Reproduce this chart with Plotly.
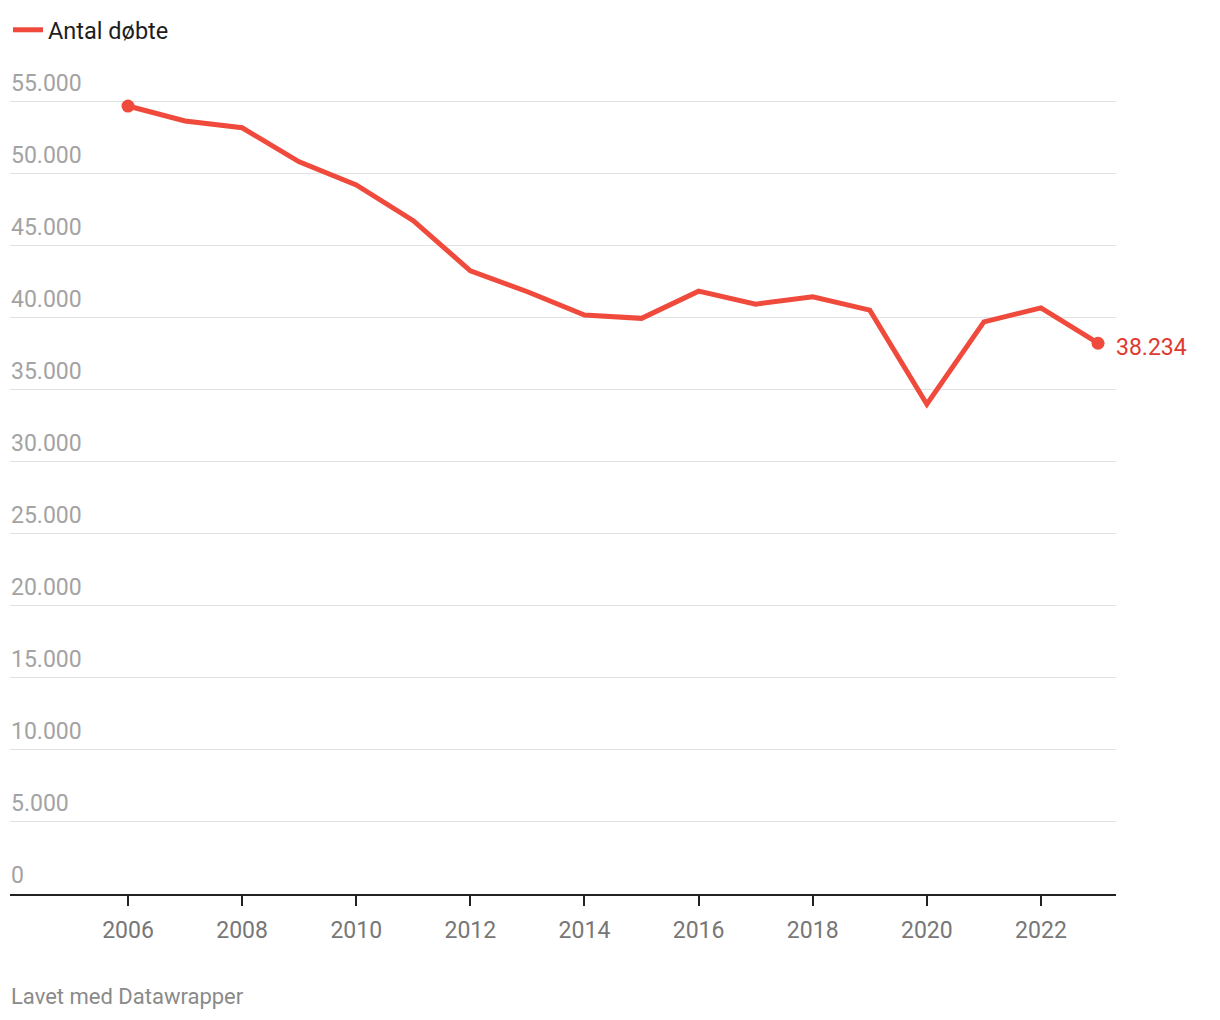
import plotly.graph_objects as go

years = list(range(2006, 2024))
baptized = [54700, 53660, 53190, 50830, 49220, 46740, 43260, 41810, 40190,
            39960, 41850, 40950, 41460, 40530, 34000, 39720, 40690, 38234]
y_ticks = [0, 5000, 10000, 15000, 20000, 25000, 30000, 35000, 40000, 45000, 50000, 55000]
y_tick_labels = ["0", "5.000", "10.000", "15.000", "20.000", "25.000", "30.000",
                 "35.000", "40.000", "45.000", "50.000", "55.000"]
x_ticks = [2006, 2008, 2010, 2012, 2014, 2016, 2018, 2020, 2022]
series_name = "Antal døbte"
end_label = "38.234"
footer = "Lavet med Datawrapper"

RED = "#ef4a3c"
FONT = "Roboto"

fig = go.Figure()
fig.add_trace(go.Scatter(
    x=years, y=baptized, mode="lines", name=series_name,
    line=dict(color=RED, width=5), showlegend=True, hoverinfo="skip",
))
fig.add_trace(go.Scatter(
    x=[years[0], years[-1]], y=[baptized[0], baptized[-1]], mode="markers",
    marker=dict(color=RED, size=13), showlegend=False, hoverinfo="skip",
))

annotations = []
for v, t in zip(y_ticks, y_tick_labels):
    annotations.append(dict(
        x=0, xref="paper", y=v, yref="y", text=t, showarrow=False,
        xanchor="left", yanchor="bottom", yshift=3, xshift=-1,
        font=dict(family=FONT, size=23, color="#a3a3a3"),
    ))
annotations.append(dict(
    x=years[-1], y=baptized[-1], xref="x", yref="y", text=end_label, showarrow=False,
    xanchor="left", yanchor="middle", xshift=16, yshift=-4,
    font=dict(family=FONT, size=23, color="#e0392f"),
))
annotations.append(dict(
    x=0, xref="paper", y=-0.1227, yref="paper", text=footer, showarrow=False,
    xanchor="left", yanchor="middle", xshift=-1,
    font=dict(family=FONT, size=22, color="#8a8a8a"),
))

# The page body adds an 8px offset; size and margins compensate for it.
fig.update_layout(
    width=1204, height=1004,
    margin=dict(l=2, r=96, t=52, b=118),
    paper_bgcolor="white", plot_bgcolor="white",
    font=dict(family=FONT),
    annotations=annotations,
    showlegend=True,
    legend=dict(
        x=-0.0045, y=1.0, xref="paper", yref="container", xanchor="left", yanchor="top",
        orientation="h", font=dict(family=FONT, size=23.5, color="#1d1d1d"),
        bgcolor="rgba(0,0,0,0)", borderwidth=0,
    ),
    xaxis=dict(
        range=[2003.932, 2023.315], tickvals=x_ticks,
        ticktext=[str(t) for t in x_ticks],
        showgrid=False, zeroline=False,
        showline=True, linecolor="#222222", linewidth=2,
        ticks="outside", ticklen=10, tickwidth=2, tickcolor="#222222",
        tickfont=dict(family=FONT, size=23, color="#777777"),
        ticklabelstandoff=4,
    ),
    yaxis=dict(
        range=[0, 57896], tickvals=y_ticks, showticklabels=False,
        showgrid=True, gridcolor="#e2e2e2", gridwidth=1.3,
        zeroline=False, showline=False, ticks="",
    ),
)

fig.write_html("out.html")
